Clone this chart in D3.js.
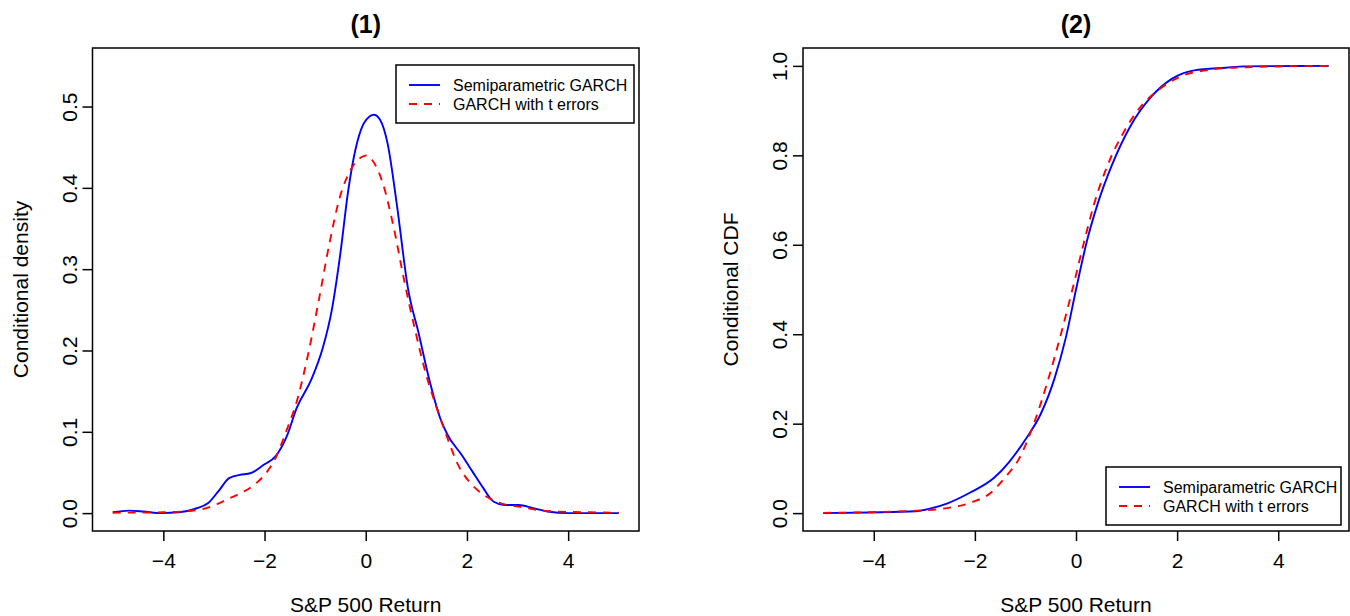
<!DOCTYPE html>
<html>
<head>
<meta charset="utf-8">
<script src="https://cdn.jsdelivr.net/npm/d3@7"></script>
<style>
  body { margin: 0; background: #fff; }
  text { font-family: "Liberation Sans", Arial, sans-serif; fill: #000; }
</style>
</head>
<body>
<svg id="svg" width="1350" height="616"></svg>
<script>
// panel (1): conditional density
const semiDensityX = [-5, -4.68, -4.4, -4.04, -3.69, -3.34, -3.12, -2.91, -2.7, -2.49, -2.28, -2.0, -1.78, -1.57, -1.36, -1.07, -0.85, -0.67, -0.5, -0.35, -0.2, -0.05, 0.08, 0.16, 0.28, 0.43, 0.62, 0.83, 1.05, 1.26, 1.47, 1.61, 1.89, 2.11, 2.32, 2.53, 2.74, 3.02, 3.31, 3.59, 4.01, 5]
const semiDensityY = [0.001, 0.003, 0.002, 0.0, 0.001, 0.006, 0.012, 0.027, 0.043, 0.047, 0.049, 0.06, 0.07, 0.093, 0.13, 0.165, 0.203, 0.25, 0.32, 0.395, 0.448, 0.478, 0.488, 0.49, 0.484, 0.455, 0.377, 0.278, 0.22, 0.163, 0.117, 0.097, 0.072, 0.051, 0.031, 0.014, 0.01, 0.01, 0.006, 0.002, 0.0, 0.0]
const tDensityX = [-5, -4, -3.3, -2.98, -2.77, -2.49, -2.2, -2.0, -1.78, -1.57, -1.36, -1.14, -0.93, -0.72, -0.51, -0.3, -0.08, 0.02, 0.13, 0.34, 0.55, 0.76, 0.98, 1.19, 1.4, 1.61, 1.82, 2.04, 2.32, 2.67, 3.02, 3.38, 3.73, 4.44, 5]
const tDensityY = [0.0005, 0.001, 0.004, 0.01, 0.016, 0.024, 0.035, 0.047, 0.068, 0.101, 0.138, 0.195, 0.261, 0.331, 0.389, 0.422, 0.438, 0.44, 0.434, 0.405, 0.352, 0.286, 0.224, 0.171, 0.13, 0.093, 0.06, 0.039, 0.023, 0.012, 0.008, 0.004, 0.002, 0.001, 0.0005]

// panel (2): conditional CDF
const semiCdfX = [-5, -4.09, -3.17, -2.89, -2.54, -2.11, -1.62, -1.34, -0.98, -0.7, -0.42, -0.2, 0.01, 0.22, 0.43, 0.71, 1.07, 1.49, 1.91, 2.34, 2.97, 3.33, 5]
const semiCdfY = [0, 0.0015, 0.004, 0.01, 0.022, 0.045, 0.079, 0.112, 0.168, 0.221, 0.303, 0.393, 0.505, 0.61, 0.692, 0.778, 0.864, 0.931, 0.972, 0.99, 0.996, 0.999, 1.0]
const tCdfX = [-5, -3.03, -2.46, -2.04, -1.69, -1.41, -1.12, -0.84, -0.56, -0.28, -0.06, 0.15, 0.36, 0.64, 0.93, 1.28, 1.63, 2.06, 2.62, 3.33, 5]
const tCdfY = [0.0005, 0.006, 0.013, 0.025, 0.045, 0.079, 0.123, 0.198, 0.295, 0.408, 0.505, 0.602, 0.692, 0.782, 0.849, 0.909, 0.946, 0.976, 0.991, 0.997, 1.0]

const xTicks = [-4, -2, 0, 2, 4]
const densityTicks = [0, 0.1, 0.2, 0.3, 0.4, 0.5]
const cdfTicks = [0, 0.2, 0.4, 0.6, 0.8, 1.0]
const seriesNames = ['Semiparametric GARCH', 'GARCH with t errors']
const seriesColors = ['#0000ff', '#ff0000']

const svg = d3.select('#svg')
const boxTop = 48, boxBottom = 531

const zip = (xs, ys) => xs.map((x, i) => ({ x, y: ys[i] }))

function drawPanel(opts) {
  const xScale = d3.scaleLinear().domain([-5.4, 5.4]).range([opts.left, opts.right])
  const yScale = d3.scaleLinear().domain(opts.yDomain).range([boxBottom, boxTop])
  const g = svg.append('g')

  const line = d3.line()
    .x(d => xScale(d.x))
    .y(d => yScale(d.y))
    .curve(d3.curveMonotoneX)

  g.append('path')
    .datum(opts.semi)
    .attr('d', line)
    .attr('fill', 'none')
    .attr('stroke', seriesColors[0])
    .attr('stroke-width', 1.9)

  g.append('path')
    .datum(opts.t)
    .attr('d', line)
    .attr('fill', 'none')
    .attr('stroke', seriesColors[1])
    .attr('stroke-width', 1.9)
    .attr('stroke-dasharray', '8,7')

  g.append('rect')
    .attr('x', opts.left)
    .attr('y', boxTop)
    .attr('width', opts.right - opts.left)
    .attr('height', boxBottom - boxTop)
    .attr('fill', 'none')
    .attr('stroke', '#000')
    .attr('stroke-width', 1.5)

  const bottomAxis = d3.axisBottom(xScale).tickValues(xTicks).tickSize(10).tickPadding(12).tickFormat(d3.format('d'))
  const xAxis = g.append('g')
    .attr('transform', `translate(0, ${boxBottom})`)
    .call(bottomAxis)
  xAxis.select('.domain').remove()
  xAxis.selectAll('line').attr('stroke-width', 1.5)
  xAxis.selectAll('text').attr('font-size', 21).attr('font-family', '"Liberation Sans", Arial, sans-serif')

  const leftAxis = d3.axisLeft(yScale).tickValues(opts.yTicks).tickSize(10).tickFormat(d3.format('.1f'))
  const yAxis = g.append('g')
    .attr('transform', `translate(${opts.left}, 0)`)
    .call(leftAxis)
  yAxis.select('.domain').remove()
  yAxis.selectAll('line').attr('stroke-width', 1.5)
  yAxis.selectAll('text')
    .attr('font-size', 21)
    .attr('font-family', '"Liberation Sans", Arial, sans-serif')
    .attr('x', 0)
    .attr('y', -16)
    .attr('dy', 0)
    .attr('text-anchor', 'middle')
    .attr('transform', 'rotate(-90)')

  g.append('text')
    .text(opts.title)
    .attr('x', (opts.left + opts.right) / 2)
    .attr('y', 33)
    .attr('text-anchor', 'middle')
    .attr('font-size', 25)
    .attr('font-weight', 'bold')

  g.append('text')
    .text('S&P 500 Return')
    .attr('x', (opts.left + opts.right) / 2)
    .attr('y', 612)
    .attr('text-anchor', 'middle')
    .attr('font-size', 21)

  g.append('text')
    .text(opts.ylab)
    .attr('transform', `translate(${opts.left - 65}, ${(boxTop + boxBottom) / 2}) rotate(-90)`)
    .attr('text-anchor', 'middle')
    .attr('font-size', 21)

  // legend
  const lg = opts.legend
  const legend = g.append('g')
  legend.append('rect')
    .attr('x', lg.x).attr('y', lg.y)
    .attr('width', lg.w).attr('height', lg.h)
    .attr('fill', '#fff')
    .attr('stroke', '#000')
    .attr('stroke-width', 1.5)
  seriesNames.forEach((name, i) => {
    const cy = lg.y + 20 + i * 19
    legend.append('line')
      .attr('x1', lg.x + 13).attr('x2', lg.x + 44)
      .attr('y1', cy).attr('y2', cy)
      .attr('stroke', seriesColors[i])
      .attr('stroke-width', 1.9)
      .attr('stroke-dasharray', i === 1 ? '8,7' : null)
    legend.append('text')
      .text(name)
      .attr('x', lg.x + 57)
      .attr('y', cy + 5.5)
      .attr('font-size', 16)
  })
}

drawPanel({
  left: 92.5, right: 639,
  yDomain: [-0.022, 0.572],
  yTicks: densityTicks,
  semi: zip(semiDensityX, semiDensityY),
  t: zip(tDensityX, tDensityY),
  title: '(1)',
  ylab: 'Conditional density',
  legend: { x: 396, y: 65, w: 238, h: 58 }
})

drawPanel({
  left: 803, right: 1349,
  yDomain: [-0.04, 1.04],
  yTicks: cdfTicks,
  semi: zip(semiCdfX, semiCdfY),
  t: zip(tCdfX, tCdfY),
  title: '(2)',
  ylab: 'Conditional CDF',
  legend: { x: 1106, y: 467, w: 235, h: 58 }
})
</script>
</body>
</html>
